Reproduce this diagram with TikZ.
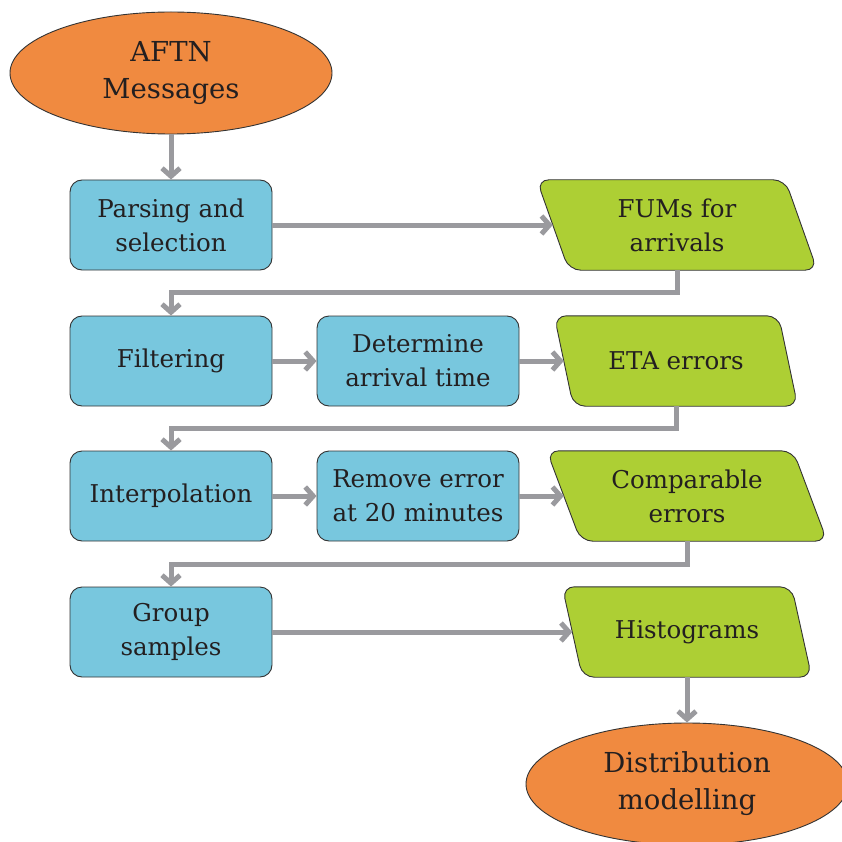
\documentclass[tikz,border=0pt]{standalone}
\usepackage{fontspec}
\setmainfont{DejaVu Serif}
\usetikzlibrary{shapes.geometric,arrows.meta,backgrounds}
\definecolor{orng}{HTML}{F08A40}
\definecolor{blu}{HTML}{78C7DE}
\definecolor{grn}{HTML}{ADCF34}
\definecolor{conncol}{HTML}{9A9A9E}
\definecolor{edgecol}{HTML}{333333}
\definecolor{txt}{HTML}{231F20}
\newcommand\paraloutline[2]{%
  \draw[parashape] ([xshift=-#2/2]#1.north west) -- ([xshift=-#2/2]#1.north east)
    -- ([xshift=#2/2]#1.south east) -- ([xshift=#2/2]#1.south west) -- cycle;}
\begin{document}
\begin{tikzpicture}[x=1pt,y=-1pt,
  base/.style={draw=edgecol,line width=0.9pt,text=txt,align=center,inner sep=2pt},
  oval/.style={base,ellipse,fill=orng,minimum width=322pt,minimum height=122pt,
    font=\fontsize{27.5}{37}\selectfont},
  proc/.style={base,rectangle,rounded corners=12pt,fill=blu,minimum width=202pt,
    minimum height=90pt,font=\fontsize{24.5}{34}\selectfont},
  para/.style={text=txt,align=center,inner sep=0pt,rectangle,
    minimum height=90pt,font=\fontsize{24.5}{34}\selectfont},
  parashape/.style={draw=edgecol,line width=0.9pt,fill=grn,rounded corners=12pt},
  conn/.style={draw=conncol,line width=5pt,
    -{Straight Barb[length=8pt,width=18pt]}}]
\useasboundingbox (0,0) rectangle (841,842);
\node[oval] (aftn) at (171,73) {AFTN\\Messages};
\node[proc] (pars) at (171,225) {Parsing and\\selection};
\node[para,minimum width=248pt] (fum) at (677,225) {FUMs for\\arrivals};
\node[proc] (filt) at (171,361) {Filtering};
\node[proc] (det) at (418,361) {Determine\\arrival time};
\node[para,minimum width=224pt] (eta) at (676,361) {ETA errors};
\node[proc] (interp) at (171,496) {Interpolation};
\node[proc] (rem) at (418,496) {Remove error\\at 20 minutes};
\node[para,minimum width=246pt] (comp) at (687,496) {Comparable\\errors};
\node[proc] (grp) at (171,632) {Group\\samples};
\node[para,minimum width=229pt] (hist) at (687,632) {Histograms};
\node[oval] (dist) at (687,784) {Distribution\\modelling};
\begin{scope}[on background layer]
  \paraloutline{fum}{32pt}
  \paraloutline{eta}{19pt}
  \paraloutline{comp}{34pt}
  \paraloutline{hist}{20pt}
\end{scope}

\draw[conn] (aftn.south) -- (pars.north);
\draw[conn] (pars.east) -- (fum.west);
\draw[conn] (fum.south) -- ++(0,22) -| (filt.north);
\draw[conn] (filt.east) -- (det.west);
\draw[conn] (det.east) -- (eta.west);
\draw[conn] (eta.south) -- ++(0,22) -| (interp.north);
\draw[conn] (interp.east) -- (rem.west);
\draw[conn] (rem.east) -- (comp.west);
\draw[conn] (comp.south) -- ++(0,23) -| (grp.north);
\draw[conn] (grp.east) -- (hist.west);
\draw[conn] (hist.south) -- (dist.north);
\end{tikzpicture}
\end{document}
